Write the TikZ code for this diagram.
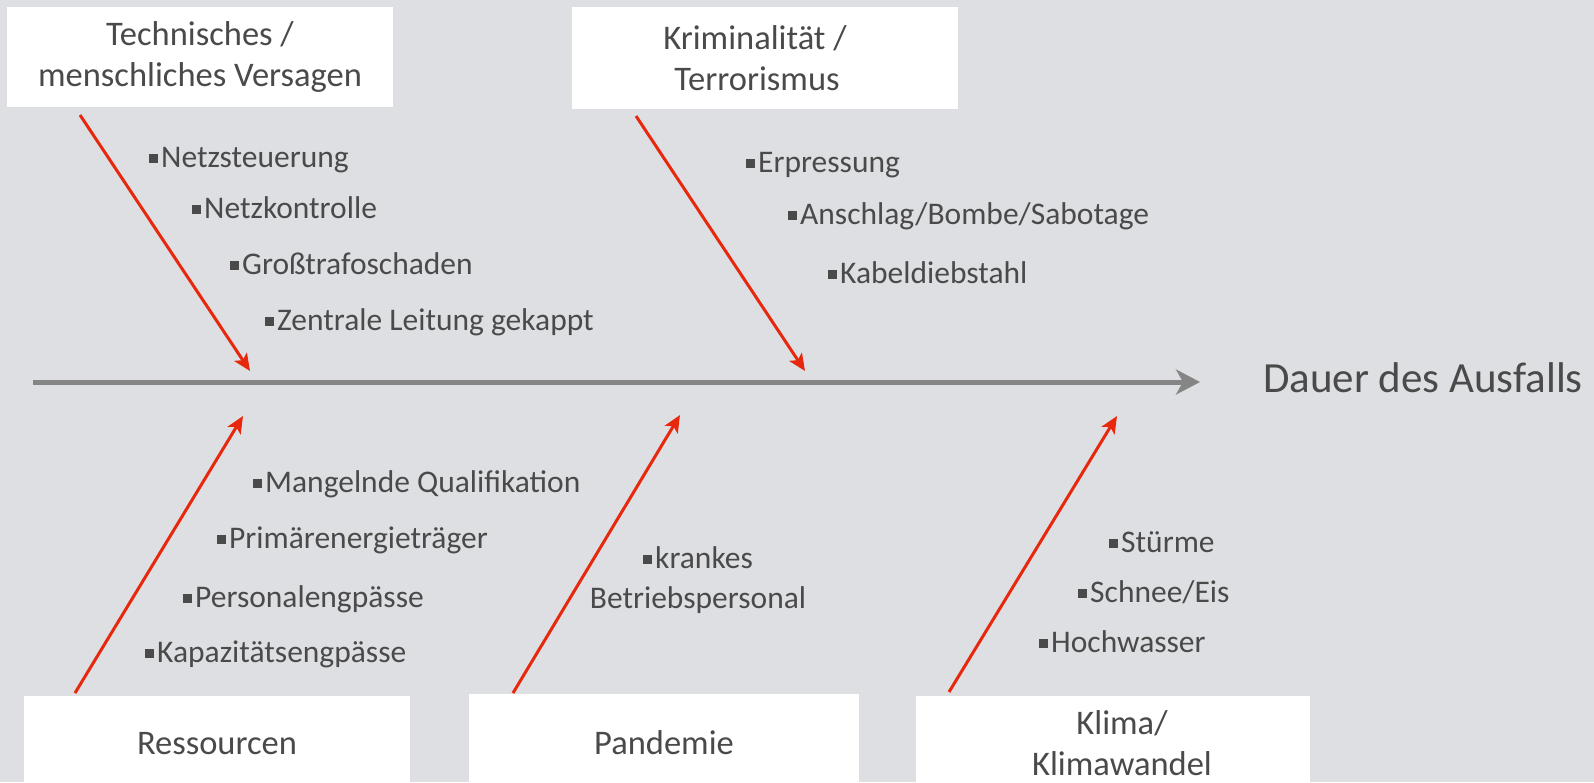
\documentclass[tikz,border=0pt]{standalone}
\usepackage{fontspec}
\setmainfont{Carlito}
\usetikzlibrary{arrows.meta}
\definecolor{bg}{RGB}{222,223,226}
\definecolor{txt}{RGB}{74,74,74}
\definecolor{spinegray}{RGB}{133,133,133}
\definecolor{causered}{RGB}{232,40,12}
\newcommand\bul{\rule[4.5pt]{9pt}{9pt}\hspace{3pt}}
\tikzset{
  box/.style={fill=white, draw=none, minimum width=386pt, inner sep=0pt, align=center,
    text=txt, font=\fontsize{34.5}{41}\selectfont},
  item/.style={anchor=base west, inner sep=0pt, text=txt, font=\fontsize{31.5}{40}\selectfont},
  causearrow/.style={draw=causered, line width=3pt, -{Stealth[length=17pt,width=15pt,inset=4pt]}},
  spinearrow/.style={draw=spinegray, line width=5pt, -{Stealth[length=24pt,width=25pt,inset=7pt]}},
}
\begin{document}
\begin{tikzpicture}[x=1pt,y=-1pt]
\useasboundingbox (0,0) rectangle (1594,782);
\clip (0,0) rectangle (1594,782);
\fill[bg] (0,0) rectangle (1594,782);

% category boxes
\node[box, minimum height=100pt] (tech) at (200,57) {Technisches /\\menschliches Versagen};
\node[box, minimum height=102pt] (krim) at (765,58) {Kriminalität /\hspace*{20pt}\\Terrorismus\hspace*{16pt}};
\node[box, minimum height=96pt] (res) at (217,744) {Ressourcen};
\node[box, minimum height=98pt, minimum width=390pt] (pan) at (664,743) {Pandemie};
\node[box, minimum height=94pt, minimum width=394pt] (kli) at (1113,743) {\hspace*{18pt}Klima/\\\hspace*{18pt}Klimawandel};

% effect
\node[anchor=base west, inner sep=0pt, text=txt, font=\fontsize{43}{50}\selectfont] (dauer) at (1263,392) {Dauer des Ausfalls};

% spine
\coordinate (sp0) at (33,382);
\coordinate (sp1) at (1200,382);
\draw[spinearrow] (sp0) -- (sp1);

% cause arrows
\coordinate (a1s) at (80,115);   \coordinate (a1e) at (250,371);
\coordinate (a2s) at (636,116);  \coordinate (a2e) at (805,371);
\coordinate (a3s) at (75,693);   \coordinate (a3e) at (243,416);
\coordinate (a4s) at (513,693);  \coordinate (a4e) at (680,415);
\coordinate (a5s) at (949,692);  \coordinate (a5e) at (1117,416);
\draw[causearrow] (a1s) -- (a1e);
\draw[causearrow] (a2s) -- (a2e);
\draw[causearrow] (a3s) -- (a3e);
\draw[causearrow] (a4s) -- (a4e);
\draw[causearrow] (a5s) -- (a5e);

% items
\node[item] (t1) at (149,167) {\bul Netzsteuerung};
\node[item] (t2) at (192,218) {\bul Netzkontrolle};
\node[item] (t3) at (230,274) {\bul Großtrafoschaden};
\node[item] (t4) at (265,330) {\bul Zentrale Leitung gekappt};

\node[item] (k1) at (746,172) {\bul Erpressung};
\node[item] (k2) at (788,224) {\bul Anschlag/Bombe/Sabotage};
\node[item] (k3) at (828,283) {\bul Kabeldiebstahl};

\node[item] (r1) at (253,492) {\bul Mangelnde Qualifikation};
\node[item] (r2) at (217,548) {\bul Primärenergieträger};
\node[item] (r3) at (183,607) {\bul Personalengpässe};
\node[item] (r4) at (145,662) {\bul Kapazitätsengpässe};

\node[item, anchor=base] (p1) at (698,568) {\begin{tabular}[t]{@{}c@{}}\bul krankes\\Betriebspersonal\end{tabular}};

\node[item] (c1) at (1109,552) {\bul Stürme};
\node[item] (c2) at (1078,602) {\bul Schnee/Eis};
\node[item] (c3) at (1039,652) {\bul Hochwasser};
\end{tikzpicture}
\end{document}
